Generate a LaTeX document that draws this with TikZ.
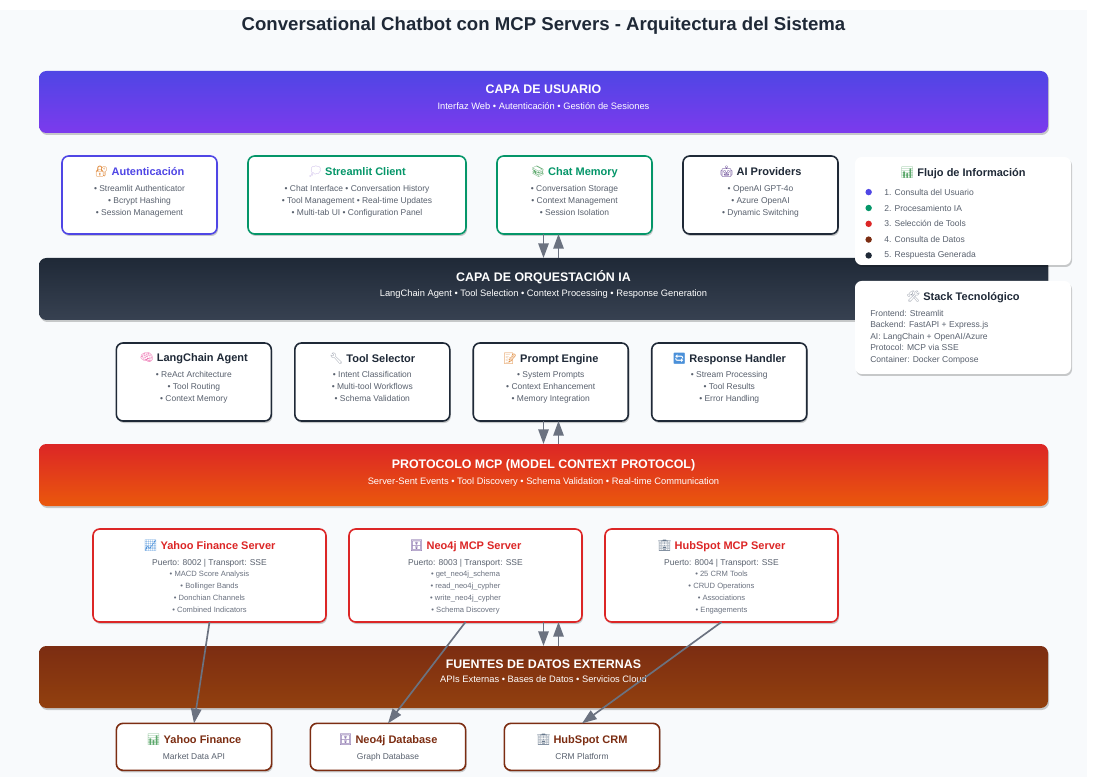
\documentclass[tikz,border=0pt]{standalone}
\usepackage{fontspec}
\setmainfont{Liberation Sans}
\newfontfamily\emojifont{Noto Emoji}
\usetikzlibrary{positioning}
\usetikzlibrary{shadows}
\usetikzlibrary{arrows.meta}

\definecolor{pagebg}{HTML}{F8FAFC}
\definecolor{inkdark}{HTML}{1F2937}
\definecolor{inkbody}{HTML}{59616E}
\definecolor{inksmall}{HTML}{6B7280}
\definecolor{cviolet}{HTML}{4F46E5}
\definecolor{cviolettwo}{HTML}{7C3AED}
\definecolor{cdarktwo}{HTML}{374151}
\definecolor{cgreen}{HTML}{059669}
\definecolor{cred}{HTML}{DC2626}
\definecolor{cradtwo}{HTML}{EA580C}
\definecolor{cbrown}{HTML}{7C2D12}
\definecolor{cbrowntwo}{HTML}{92400E}
\definecolor{eorange}{HTML}{E08A3C}
\definecolor{elilac}{HTML}{C9B8E8}
\definecolor{egreen}{HTML}{5CA86C}
\definecolor{epurple}{HTML}{5B3A8C}
\definecolor{epink}{HTML}{EE6FB0}
\definecolor{egrey}{HTML}{9AA0AC}
\definecolor{eblue}{HTML}{4A90D9}
\definecolor{ebuild}{HTML}{67788C}

\newcommand{\cardhead}[4]{{\fontsize{8.25}{9}\selectfont\color{#1}{\color{#2}\emojifont #3}\ \bfseries #4}}
\newcommand{\toolline}[1]{{\fontsize{5.7}{9}\selectfont\color{inksmall}#1}}
\newcommand{\barhead}[1]{{\fontsize{9.3}{12}\selectfont\bfseries #1}}

\tikzset{
    softshadow/.style={drop shadow={shadow xshift=0.8pt, shadow yshift=-1.5pt, opacity=0.2, fill=black}},
    layer/.style={minimum width=756.75pt, minimum height=46.5pt, rounded corners=5.5pt, outer sep=0pt, shading angle=3.5, softshadow},
    bartext/.style={align=center, inner sep=0pt, text=white, font=\fontsize{7}{9}\selectfont},
    card/.style={draw=#1, line width=1.2pt, fill=white, rounded corners=5pt, outer sep=0pt, softshadow},
    uppercard/.style={card=#1, minimum width=116.25pt, minimum height=58.5pt},
    widecard/.style={card=#1, minimum width=163.5pt, minimum height=58.5pt},
    servercard/.style={card=cred, minimum width=174.75pt, minimum height=69.75pt},
    sourcecard/.style={card=cbrown, minimum width=116.5pt, minimum height=35.25pt},
    cardtext/.style={align=center, inner sep=0pt, text=inkbody, font=\fontsize{6.35}{9}\selectfont},
    panel/.style={fill=white, rounded corners=5pt, outer sep=0pt, minimum width=162pt, softshadow},
    dot/.style={circle, inner sep=0pt, minimum size=4.8pt},
    dottext/.style={inner sep=0pt, text=inkbody, font=\fontsize{6.4}{8}\selectfont},
    flow/.style={draw=inksmall, line width=1.25pt, -{Triangle[length=11pt, width=7.8pt]}},
}

\begin{document}
\begin{tikzpicture}[x=0.75pt, y=-0.75pt]

    \useasboundingbox (0,0) rectangle (1100,777);
    \fill[pagebg] (0,10) rectangle (1087,777);

    % layers
    \node(User)[layer, top color=cviolet, bottom color=cviolettwo] at (543.5,102) {};
    \node(Orq)[layer, top color=inkdark, bottom color=cdarktwo, below=93.75pt of User] {};
    \node(Mcp)[layer, top color=cred, bottom color=cradtwo, below=93pt of Orq] {};
    \node(Fuentes)[layer, top color=cbrown, bottom color=cbrowntwo, below=105pt of Mcp] {};

    \node(Title)[above=27pt of User, inner sep=0pt, text=inkdark, font=\fontsize{13.95}{17}\selectfont\bfseries]{Conversational Chatbot con MCP Servers - Arquitectura del Sistema};

    \node(UserT)[bartext, below=10.35pt of User.north]{\barhead{CAPA DE USUARIO}\\[3pt]Interfaz Web • Autenticación • Gestión de Sesiones};
    \node(OrqT)[bartext, below=9.3pt of Orq.north]{\barhead{CAPA DE ORQUESTACIÓN IA}\\[2pt]LangChain Agent • Tool Selection • Context Processing • Response Generation};
    \node(McpT)[bartext, below=11.1pt of Mcp.north]{\barhead{PROTOCOLO MCP (MODEL CONTEXT PROTOCOL)}\\[3pt]Server-Sent Events • Tool Discovery • Schema Validation • Real-time Communication};
    \node(FuentesT)[bartext, below=10.35pt of Fuentes.north]{\barhead{FUENTES DE DATOS EXTERNAS}\\[1.5pt]APIs Externas • Bases de Datos • Servicios Cloud};

    % user layer cards
    \node(Auth)[uppercard=cviolet, below right=17.25pt and 17.25pt of User.south west]{};
    \node(Client)[widecard=cgreen, right=23.25pt of Auth]{};
    \node(Memory)[uppercard=cgreen, right=23.25pt of Client]{};
    \node(Providers)[uppercard=inkdark, right=23.25pt of Memory]{};

    \node(AuthT)[cardtext, below=7.6pt of Auth.north]{\cardhead{cviolet}{eorange}{🔐}{Autenticación}\\[3pt]• Streamlit Authenticator\\• Bcrypt Hashing\\• Session Management};
    \node(ClientT)[cardtext, below=7.6pt of Client.north]{\cardhead{cgreen}{elilac}{💭}{Streamlit Client}\\[3pt]• Chat Interface • Conversation History\\• Tool Management • Real-time Updates\\• Multi-tab UI • Configuration Panel};
    \node(MemoryT)[cardtext, below=7.6pt of Memory.north]{\cardhead{cgreen}{egreen}{📚}{Chat Memory}\\[3pt]• Conversation Storage\\• Context Management\\• Session Isolation};
    \node(ProvidersT)[cardtext, below=7.6pt of Providers.north]{\cardhead{inkdark}{epurple}{🤖}{AI Providers}\\[3pt]• OpenAI GPT-4o\\• Azure OpenAI\\• Dynamic Switching};

    % orchestration cards
    \node(Agent)[uppercard=inkdark, below right=17.25pt and 58pt of Orq.south west]{};
    \node(Selector)[uppercard=inkdark, right=17.6pt of Agent]{};
    \node(Prompt)[uppercard=inkdark, right=17.6pt of Selector]{};
    \node(Handler)[uppercard=inkdark, right=17.6pt of Prompt]{};

    \node(AgentT)[cardtext, below=7.6pt of Agent.north]{\cardhead{inkdark}{epink}{🧠}{LangChain Agent}\\[2.4pt]• ReAct Architecture\\• Tool Routing\\• Context Memory};
    \node(SelectorT)[cardtext, below=7.6pt of Selector.north]{\cardhead{inkdark}{egrey}{🔧}{Tool Selector}\\[2.4pt]• Intent Classification\\• Multi-tool Workflows\\• Schema Validation};
    \node(PromptT)[cardtext, below=7.6pt of Prompt.north]{\cardhead{inkdark}{eorange}{📝}{Prompt Engine}\\[2.4pt]• System Prompts\\• Context Enhancement\\• Memory Integration};
    \node(HandlerT)[cardtext, below=7.6pt of Handler.north]{\cardhead{inkdark}{eblue}{🔄}{Response Handler}\\[2.4pt]• Stream Processing\\• Tool Results\\• Error Handling};

    % servers
    \node(YahooSrv)[servercard, below right=17.25pt and 40.5pt of Mcp.south west]{};
    \node(NeoSrv)[servercard, right=17.25pt of YahooSrv]{};
    \node(HubSrv)[servercard, right=17.25pt of NeoSrv]{};

    \node(YahooSrvT)[cardtext, below=8.5pt of YahooSrv.north]{\cardhead{cred}{eblue}{📈}{Yahoo Finance Server}\\[3pt]Puerto: 8002 | Transport: SSE\\[-1pt]\toolline{• MACD Score Analysis}\\\toolline{• Bollinger Bands}\\\toolline{• Donchian Channels}\\\toolline{• Combined Indicators}};
    \node(NeoSrvT)[cardtext, below=8.5pt of NeoSrv.north]{\cardhead{cred}{epurple}{🗄}{Neo4j MCP Server}\\[3pt]Puerto: 8003 | Transport: SSE\\[-1pt]\toolline{• get\_neo4j\_schema}\\\toolline{• read\_neo4j\_cypher}\\\toolline{• write\_neo4j\_cypher}\\\toolline{• Schema Discovery}};
    \node(HubSrvT)[cardtext, below=8.5pt of HubSrv.north]{\cardhead{cred}{ebuild}{🏢}{HubSpot MCP Server}\\[3pt]Puerto: 8004 | Transport: SSE\\[-1pt]\toolline{• 25 CRM Tools}\\\toolline{• CRUD Operations}\\\toolline{• Associations}\\\toolline{• Engagements}};

    % data sources
    \node(YahooApi)[sourcecard, below right=11.5pt and 58pt of Fuentes.south west]{};
    \node(NeoDb)[sourcecard, right=29pt of YahooApi]{};
    \node(HubCrm)[sourcecard, right=29pt of NeoDb]{};

    \node(YahooApiT)[cardtext, below=8.2pt of YahooApi.north]{\cardhead{cbrown}{egreen}{📊}{Yahoo Finance}\\[2.5pt]Market Data API};
    \node(NeoDbT)[cardtext, below=8.2pt of NeoDb.north]{\cardhead{cbrown}{epurple}{🗄}{Neo4j Database}\\[2.5pt]Graph Database};
    \node(HubCrmT)[cardtext, below=8.2pt of HubCrm.north]{\cardhead{cbrown}{ebuild}{🏢}{HubSpot CRM}\\[2.5pt]CRM Platform};

    % side panels
    \node(Flujo)[panel, minimum height=81pt, below right=0.75pt and 12.75pt of Providers.north east]{};
    \node(Stack)[panel, minimum height=69.75pt, below=12pt of Flujo]{};

    \node(FlujoT)[below=7.6pt of Flujo.north, inner sep=0pt, text=inkdark, font=\fontsize{8.25}{10}\selectfont]{{\color{egreen}\emojifont 📊}\ \textbf{Flujo de Información}};
    \node(StackT)[below=7.6pt of Stack.north, inner sep=0pt, text=inkdark, font=\fontsize{8.25}{10}\selectfont]{{\color{egrey}\emojifont 🛠}\ \textbf{Stack Tecnológico}};

    \node(Dot1)[dot, fill=cviolet, below right=24.5pt and 8.4pt of Flujo.north west]{};
    \node(Dot2)[dot, fill=cgreen, below=6.7pt of Dot1]{};
    \node(Dot3)[dot, fill=cred, below=6.7pt of Dot2]{};
    \node(Dot4)[dot, fill=cbrown, below=6.6pt of Dot3]{};
    \node(Dot5)[dot, fill=inkdark, below=6.7pt of Dot4]{};
    \node(Paso1)[dottext, right=9pt of Dot1]{1. Consulta del Usuario};
    \node(Paso2)[dottext, right=9pt of Dot2]{2. Procesamiento IA};
    \node(Paso3)[dottext, right=9pt of Dot3]{3. Selección de Tools};
    \node(Paso4)[dottext, right=9pt of Dot4]{4. Consulta de Datos};
    \node(Paso5)[dottext, right=9pt of Dot5]{5. Respuesta Generada};

    \node(StackL)[below right=21.75pt and 11.25pt of Stack.north west, align=left, inner sep=0pt, text=inkbody, font=\fontsize{6.4}{8.6}\selectfont]{Frontend: Streamlit\\Backend: FastAPI + Express.js\\AI: LangChain + OpenAI/Azure\\Protocol: MCP via SSE\\Container: Docker Compose};

    % connectors
    \draw[flow] (Orq.north |- Memory.south) -- (Orq.north);
    \draw[flow] ([xshift=11.25pt]Orq.north) -- ([xshift=11.25pt]Orq.north |- Memory.south);
    \draw[flow] (Mcp.north |- Prompt.south) -- (Mcp.north);
    \draw[flow] ([xshift=11.25pt]Mcp.north) -- ([xshift=11.25pt]Mcp.north |- Prompt.south);
    \draw[flow] (Fuentes.north |- NeoSrv.south) -- (Fuentes.north);
    \draw[flow] ([xshift=11.25pt]Fuentes.north) -- ([xshift=11.25pt]Fuentes.north |- NeoSrv.south);

    \draw[flow] (YahooSrv.south) -- (YahooApi.north);
    \draw[flow] (NeoSrv.south) -- (NeoDb.north);
    \draw[flow] (HubSrv.south) -- (HubCrm.north);

\end{tikzpicture}
\end{document}
